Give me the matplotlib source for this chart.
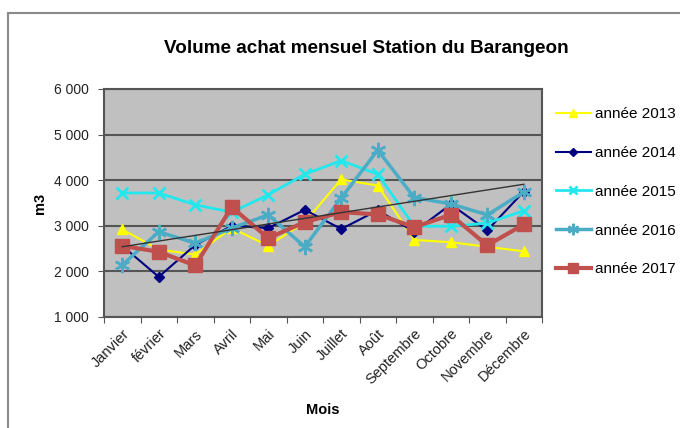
import numpy as np
import matplotlib.pyplot as plt
from matplotlib.patches import Rectangle

plt.rcParams['font.family'] = ['Liberation Sans', 'DejaVu Sans']

mois = ["Janvier", "février", "Mars", "Avril", "Mai", "Juin", "Juillet", "Août",
        "Septembre", "Octobre", "Novembre", "Décembre"]

# volumes (m3)
v2013 = [2920, 2480, 2370, 2950, 2560, 3080, 4020, 3880, 2690, 2640, 2540, 2440]
v2014 = [2560, 1880, 2580, 3000, 2950, 3350, 2930, 3340, 2870, 3470, 2900, 3750]
v2015 = [3720, 3720, 3460, 3300, 3680, 4130, 4430, 4130, 2990, 2990, 3060, 3330]
v2016 = [2140, 2870, 2620, 2950, 3240, 2540, 3610, 4660, 3620, 3480, 3240, 3740]
v2017 = [2560, 2430, 2130, 3410, 2730, 3080, 3300, 3250, 2970, 3240, 2570, 3030]

labels = ["année 2013", "année 2014", "année 2015", "année 2016", "année 2017"]


def main():
    fig = plt.figure(figsize=(6.8, 4.28), dpi=100)
    # outer chart frame
    fig.patches.append(Rectangle((8 / 680, -0.1), 1.0, 1 - 13 / 428 + 0.1,
                                 transform=fig.transFigure, fill=False,
                                 edgecolor='#8a8a8a', linewidth=1.5))
    ax = fig.add_axes([104 / 680, 1 - 317 / 428, 438 / 680, 228 / 428])
    ax.set_facecolor('#c0c0c0')

    x = np.arange(len(mois))
    ax.plot(x, v2013, '^-', color='#ffff00', lw=1.5, ms=7, label=labels[0], zorder=3)
    ax.plot(x, v2014, 'D-', color='#000080', lw=1.5, ms=5, label=labels[1], zorder=3)
    ax.plot(x, v2015, 'x-', color='#22e8ee', lw=2, ms=8, mew=2, label=labels[2], zorder=3)
    ax.plot(x, v2016, marker=(6, 2, 0), color='#4bacc6', lw=2.5, ms=11, mew=1.8,
            label=labels[3], zorder=3)
    ax.plot(x, v2017, 's-', color='#c0504d', lw=3, ms=10, label=labels[4], zorder=4)

    # linear trend (2016)
    a, b = np.polyfit(x, v2016, 1)
    ax.plot([x[0], x[-1]], [a * x[0] + b, a * x[-1] + b], color='#333333', lw=1, zorder=5)

    ax.set_xlim(-0.5, 11.5)
    ax.set_ylim(1000, 6000)
    ax.set_yticks(np.arange(1000, 6001, 1000))
    ax.set_yticklabels([f"{v // 1000} 000" for v in range(1000, 6001, 1000)],
                       fontsize=10, color='#222222')
    ax.yaxis.grid(True, color='#555555', lw=1.5)
    ax.set_axisbelow(True)

    ax.set_xticks(np.arange(-0.5, 12, 1))
    ax.set_xticklabels([])
    ax.set_xticks(x, minor=True)
    ax.set_xticklabels(mois, minor=True, rotation=45, ha='right', va='top',
                       rotation_mode='anchor', fontsize=10.5, color='#222222')
    ax.tick_params(axis='x', which='minor', length=0, pad=7)
    ax.tick_params(axis='y', which='major', pad=7)
    ax.tick_params(axis='both', which='major', direction='out', length=4,
                   color='#555555')

    for s in ax.spines.values():
        s.set_color('#555555')
        s.set_linewidth(1.5)

    ax.set_title('Volume achat mensuel Station du Barangeon', fontsize=13.6,
                 fontweight='bold', pad=26, x=0.6)
    ax.set_ylabel('m3', fontsize=10.5, fontweight='bold', labelpad=5)
    ax.set_xlabel('Mois', fontsize=10.5, fontweight='bold', labelpad=11)

    ax.legend(loc='upper left', bbox_to_anchor=(1.0, 0.98), frameon=False,
              fontsize=11, labelspacing=1.62, handlelength=2.3, handletextpad=0.25,
              markerscale=0.75)

    fig.savefig('out.png', dpi=100)


if __name__ == '__main__':
    main()
